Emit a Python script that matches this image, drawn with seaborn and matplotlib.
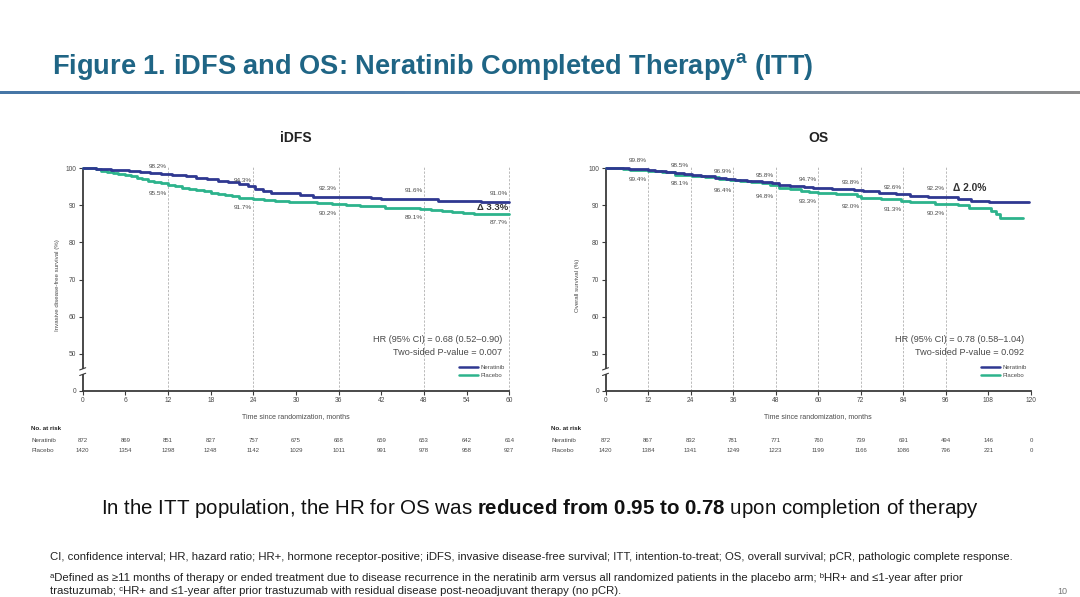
import numpy as np
import matplotlib
matplotlib.use("Agg")
import matplotlib.pyplot as plt
import matplotlib.transforms as mtransforms
from matplotlib.colors import LinearSegmentedColormap
from matplotlib.lines import Line2D
import seaborn as sns
import pandas as pd

# ---------------- data ----------------
idfs_ner_t = [0, 1.9, 4.0, 6.5, 8.0, 9.5, 11.0, 12.5, 14.5, 16.0, 17.5, 19.0, 20.5, 22.0, 23.3,
              24.2, 25.3, 26.5, 30.5, 32.4, 40.5, 42.0, 50.0, 56.0, 60.0]
idfs_ner_s = [100, 99.8, 99.6, 99.3, 99.0, 98.7, 98.4, 98.1, 97.8, 97.4, 97.0, 96.6, 96.2, 95.7, 95.1,
              94.3, 93.8, 93.4, 92.9, 92.3, 91.9, 91.6, 91.3, 91.0, 91.0]
idfs_pla_t = [0, 1.9, 2.6, 3.4, 4.2, 5, 6, 6.8, 7.6, 8.4, 9.2, 10, 11, 12, 13, 14, 15, 16, 17, 18,
              19, 20, 21, 22, 23, 24, 25.5, 27, 29, 31, 33, 35, 37, 39, 41, 42.5, 45, 47.5, 49,
              50.5, 52, 53.5, 55, 60]
idfs_pla_s = [100, 99.7, 99.4, 99.1, 98.8, 98.5, 98.2, 97.9, 97.5, 97.1, 96.7, 96.3, 95.9, 95.5,
              95.1, 94.8, 94.4, 94.1, 93.8, 93.4, 93.0, 92.7, 92.4, 92.1, 91.9, 91.7, 91.4, 91.2,
              91.0, 90.8, 90.6, 90.3, 90.1, 89.9, 89.7, 89.4, 89.3, 89.1, 88.8, 88.5, 88.2, 88.0,
              87.7, 87.7]

os_ner_t = [0, 6.7, 12.0, 14.0, 17.0, 19.5, 22.0, 24.5, 27.0, 31.0, 34.0, 36.5, 40.0, 44.0, 47.0,
            49.0, 52.0, 56.0, 58.6, 64.0, 70.0, 72.5, 77.0, 82.0, 86.0, 91.0, 99.4, 103.0, 108.2,
            119.3]
os_ner_s = [100, 99.8, 99.6, 99.4, 99.0, 98.7, 98.5, 98.2, 97.9, 97.5, 97.2, 96.9, 96.6, 96.3, 95.9,
            95.6, 95.3, 95.0, 94.7, 94.5, 94.2, 93.8, 93.4, 93.1, 92.6, 92.3, 91.7, 91.3, 90.9, 90.9]
os_pla_t = [0, 5.0, 7.0, 12.0, 16.0, 19.6, 24.5, 28.0, 32.0, 35.0, 38.0, 41.0, 44.0, 46.5, 49.0,
            52.0, 55.0, 57.5, 60.0, 65.0, 70.8, 72.0, 77.6, 83.3, 86.0, 93.0, 99.4, 102.6, 108.8,
            110.0, 111.2, 117.8]
os_pla_s = [100, 99.7, 99.5, 99.4, 98.9, 98.2, 98.0, 97.6, 97.2, 96.8, 96.5, 96.2, 95.9, 95.4, 94.8,
            94.4, 94.0, 93.6, 93.3, 93.0, 92.5, 92.0, 91.7, 91.3, 90.8, 90.4, 90.2, 89.2, 88.5,
            87.6, 86.7, 86.7]

idfs_xticks = [0, 6, 12, 18, 24, 30, 36, 42, 48, 54, 60]
os_xticks = [0, 12, 24, 36, 48, 60, 72, 84, 96, 108, 120]
yticks = [0, 50, 60, 70, 80, 90, 100]

idfs_marks = [12, 24, 36, 48, 60]
idfs_ner_lab = [98.2, 94.3, 92.3, 91.6, 91.0]
idfs_pla_lab = [95.5, 91.7, 90.2, 89.1, 87.7]
os_marks = [12, 24, 36, 48, 60, 72, 84, 96]
os_ner_lab = [99.8, 98.5, 96.9, 95.8, 94.7, 93.8, 92.6, 92.2]
os_pla_lab = [99.4, 98.1, 96.4, 94.8, 93.3, 92.0, 91.3, 90.2]

idfs_risk_ner = [872, 869, 851, 827, 757, 675, 668, 659, 653, 642, 614]
idfs_risk_pla = [1420, 1354, 1298, 1248, 1142, 1029, 1011, 991, 978, 958, 927]
os_risk_ner = [872, 867, 832, 781, 771, 760, 739, 691, 494, 146, 0]
os_risk_pla = [1420, 1384, 1341, 1249, 1223, 1199, 1166, 1086, 796, 221, 0]

idfs_hr = "HR (95% CI) = 0.68 (0.52\u20130.90)"
idfs_p = "Two-sided P-value = 0.007"
os_hr = "HR (95% CI) = 0.78 (0.58\u20131.04)"
os_p = "Two-sided P-value = 0.092"

# ---------------- style ----------------
sns.set_theme(style="white")
plt.rcParams["font.family"] = ["Liberation Sans", "DejaVu Sans"]
plt.rcParams["mathtext.fontset"] = "custom"
plt.rcParams["mathtext.rm"] = "Liberation Sans"
plt.rcParams["mathtext.it"] = "Liberation Sans:italic"
plt.rcParams["mathtext.bf"] = "Liberation Sans:bold"

NER = "#2f3891"
PLA = "#2db38c"
AXC = "#3a3a3a"
TXT = "#4a4a4a"

W, H = 1080, 597
fig = plt.figure(figsize=(W / 100, H / 100), dpi=100)
fig.patch.set_facecolor("white")


def fx(px):
    return px / W


def fy(py):
    return 1 - py / H


# title
fig.text(fx(52), fy(67), r"Figure 1. iDFS and OS: Neratinib Completed Therapy$^{\mathbf{a}}$ (ITT)",
         fontsize=19.6, fontweight="bold", color="#1f6585", ha="left", va="center")

# gradient rule under title
axg = fig.add_axes([0, fy(94), 1, 3 / H])
cmap = LinearSegmentedColormap.from_list("g", ["#4676a6", "#5a86b0", "#8d8d8d"])
axg.imshow(np.linspace(0, 1, 256)[None, :], aspect="auto", cmap=cmap, extent=[0, 1, 0, 1])
axg.set_axis_off()


def panel(ax, tn, sn, tp, sp, xmax, xticks, marks, lab_n, lab_p, hr, pv, ylabel, title,
          risk_n, risk_p, ylab_x, table_x, delta_mode):
    df = pd.concat([
        pd.DataFrame({"t": tn, "s": sn, "arm": "Neratinib"}),
        pd.DataFrame({"t": tp, "s": sp, "arm": "Placebo"}),
    ], ignore_index=True)
    for m in marks:
        ax.plot([m, m], [40, 100.4], ls=(0, (3, 2)), color="#a8a8a8", lw=0.55, zorder=1,
                clip_on=False)
    sns.lineplot(data=df, x="t", y="s", hue="arm", hue_order=["Placebo", "Neratinib"],
                 palette={"Neratinib": NER, "Placebo": PLA}, drawstyle="steps-post",
                 estimator=None, sort=False, lw=2.0, legend=False, ax=ax, clip_on=False,
                 zorder=3)
    ax.set_xlim(0, xmax)
    ax.set_ylim(40, 100)
    ax.set_xticks(xticks)
    ax.set_xticklabels([str(v) for v in xticks])
    ax.set_yticks([40 if v == 0 else v for v in yticks])
    ax.set_yticklabels([str(v) for v in yticks])
    ax.set_xlabel("")
    ax.set_ylabel("")
    ax.tick_params(axis="both", which="major", labelsize=4.8, labelcolor=TXT, color=AXC,
                   length=3, width=0.8, pad=1.5, bottom=True, left=True)
    for s in ["top", "right", "left"]:
        ax.spines[s].set_visible(False)
    ax.spines["bottom"].set_color(AXC)
    ax.spines["bottom"].set_linewidth(1.3)
    ax.set_facecolor("white")

    # broken left spine
    tr = mtransforms.blended_transform_factory(ax.transAxes, ax.transData)
    kw = dict(color=AXC, lw=1.3, transform=tr, clip_on=False, solid_capstyle="butt")
    ax.plot([0, 0], [40, 44.4], **kw)
    ax.plot([0, 0], [45.9, 100], **kw)
    ax.plot([-0.007, 0.007], [44.1, 44.7], color=AXC, lw=0.8, transform=tr, clip_on=False)
    ax.plot([-0.007, 0.007], [45.6, 46.2], color=AXC, lw=0.8, transform=tr, clip_on=False)

    # landmark labels
    for m, vn, vp in zip(marks, lab_n, lab_p):
        ax.annotate(f"{vn:.1f}%", xy=(m, vn), xytext=(-7.5, 6.2), textcoords="offset points",
                    ha="center", va="center", fontsize=4.6, color=TXT)
        ax.annotate(f"{vp:.1f}%", xy=(m, vp), xytext=(-7.5, -6.2), textcoords="offset points",
                    ha="center", va="center", fontsize=4.6, color=TXT)
    delta = lab_n[-1] - lab_p[-1]
    if delta_mode == "below":
        ax.text(marks[-1] - 0.2, (lab_n[-1] + lab_p[-1]) / 2, f"\u0394 {delta:.1f}%",
                ha="right", va="center", fontsize=6.8, fontweight="bold", color="#333333")
    else:
        ax.annotate(f"\u0394 {delta:.1f}%", xy=(marks[-1], lab_n[-1]), xytext=(5, 6.6),
                    textcoords="offset points", ha="left", va="center", fontsize=7.4,
                    fontweight="bold", color="#333333")

    # HR text
    ax.text(0.984, 0.228, hr, transform=ax.transAxes, ha="right", va="center", fontsize=6.6,
            color=TXT)
    ax.text(0.984, 0.170, pv, transform=ax.transAxes, ha="right", va="center", fontsize=6.6,
            color=TXT)

    # legend
    handles = [Line2D([], [], color=NER, lw=1.8), Line2D([], [], color=PLA, lw=1.8)]
    ax.legend(handles, ["Neratinib", "Placebo"], loc="upper right",
              bbox_to_anchor=(0.99, 0.118), frameon=False, fontsize=4.3, handlelength=3.2,
              handletextpad=0.4, labelspacing=0.5, borderpad=0, borderaxespad=0,
              labelcolor=TXT)

    # axis labels & title
    ax.text(0.5, fy(417), "Time since randomization, months",
            transform=mtransforms.blended_transform_factory(ax.transAxes, fig.transFigure),
            ha="center", va="center", fontsize=5.0, color=TXT)
    fig.text(ylab_x, fy(285), ylabel, rotation=90, ha="center", va="center", fontsize=4.4,
             color=TXT)
    ax.text(0.5, fy(138), title,
            transform=mtransforms.blended_transform_factory(ax.transAxes, fig.transFigure),
            ha="center", va="center", fontsize=10, fontweight="bold", color="#222222")

    # number at risk table
    trf = mtransforms.blended_transform_factory(ax.transData, fig.transFigure)
    fig.text(table_x, fy(428), "No. at risk", ha="left", va="center", fontsize=4.5,
             fontweight="bold", color="#222222")
    fig.text(table_x, fy(440), "Neratinib", ha="left", va="center", fontsize=4.5, color=TXT)
    fig.text(table_x, fy(450), "Placebo", ha="left", va="center", fontsize=4.5, color=TXT)
    for t, a, b in zip(xticks, risk_n, risk_p):
        ax.text(t, fy(440), str(a), transform=trf, ha="center", va="center", fontsize=4.3,
                color=TXT)
        ax.text(t, fy(450), str(b), transform=trf, ha="center", va="center", fontsize=4.3,
                color=TXT)


ax1 = fig.add_axes([fx(82.7), fy(390.7), fx(509.3 - 82.7), (390.7 - 168.3) / H])
ax2 = fig.add_axes([fx(605.5), fy(390.7), fx(1031 - 605.5), (390.7 - 168.3) / H])

panel(ax1, idfs_ner_t, idfs_ner_s, idfs_pla_t, idfs_pla_s, 60, idfs_xticks, idfs_marks,
      idfs_ner_lab, idfs_pla_lab, idfs_hr, idfs_p, "Invasive disease-free survival (%)", "iDFS",
      idfs_risk_ner, idfs_risk_pla, fx(57), fx(31), "below")
panel(ax2, os_ner_t, os_ner_s, os_pla_t, os_pla_s, 120, os_xticks, os_marks,
      os_ner_lab, os_pla_lab, os_hr, os_p, "Overall survival (%)", "OS",
      os_risk_ner, os_risk_pla, fx(578), fx(551), "right")

# bottom statement
fig.text(fx(540), fy(508),
         r"In the ITT population, the HR for OS was $\mathbf{reduced\ from\ 0.95\ to\ 0.78}$ upon completion of therapy",
         ha="center", va="center", fontsize=14.8, color="#111111")

# footnotes
FN = 8.2
FAM = ["Liberation Sans", "DejaVu Sans"]
fig.text(fx(50), fy(557),
         "CI, confidence interval; HR, hazard ratio; HR+, hormone receptor-positive; iDFS, invasive "
         "disease-free survival; ITT, intention-to-treat; OS, overall survival; pCR, pathologic "
         "complete response.", ha="left", va="center", fontsize=FN, color="#222222", family=FAM)
fig.text(fx(50), fy(578),
         "\u1d43Defined as \u226511 months of therapy or ended treatment due to disease recurrence "
         "in the neratinib arm versus all randomized patients in the placebo arm; \u1d47HR+ "
         "and \u22641-year after prior", ha="left", va="center", fontsize=FN, color="#222222",
         family=FAM)
fig.text(fx(50), fy(591),
         "trastuzumab; \u1d9cHR+ and \u22641-year after prior trastuzumab with residual disease "
         "post-neoadjuvant therapy (no pCR).", ha="left", va="center", fontsize=FN,
         color="#222222", family=FAM)
fig.text(fx(1062), fy(591), "10", ha="center", va="center", fontsize=6.5, color="#777777")

fig.savefig("out.png", dpi=100, facecolor="white")
